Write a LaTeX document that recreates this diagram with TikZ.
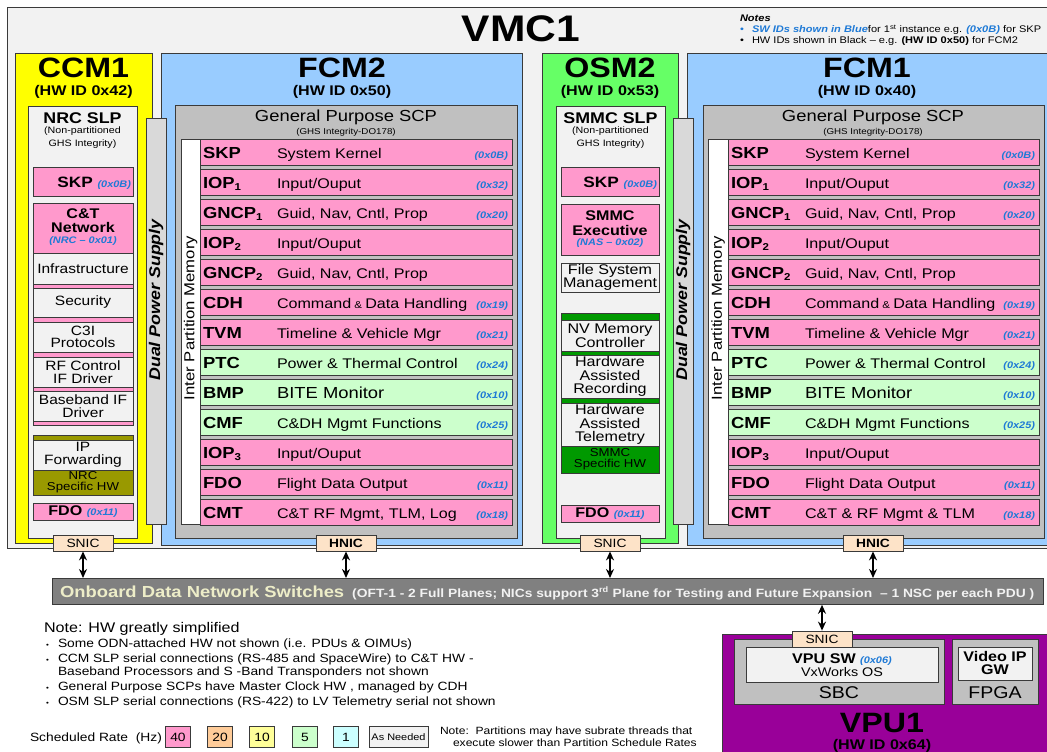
\documentclass[tikz,border=0pt]{standalone}
\usepackage{fontspec}
\setmainfont{Liberation Sans}[FakeStretch=1.15]
\usetikzlibrary{arrows.meta}
\definecolor{vmcbg}{HTML}{F2F2F2}
\definecolor{pinkp}{HTML}{FF99CC}
\definecolor{greenp}{HTML}{CCFFCC}
\definecolor{bluem}{HTML}{99CCFF}
\definecolor{yellowm}{HTML}{FFFF00}
\definecolor{greenm}{HTML}{66FF66}
\definecolor{scpgray}{HTML}{C0C0C0}
\definecolor{dpsgray}{HTML}{D9D9D9}
\definecolor{olivem}{HTML}{999900}
\definecolor{dkgreen}{HTML}{009900}
\definecolor{nicfill}{HTML}{FDE3C8}
\definecolor{bargray}{HTML}{808080}
\definecolor{bartext}{HTML}{EDEDC8}
\definecolor{purplem}{HTML}{990099}
\definecolor{idblue}{HTML}{1F7AD6}
\definecolor{edge}{HTML}{3A3A3A}
\definecolor{orangep}{HTML}{FFCC99}
\definecolor{yellowp}{HTML}{FFFF99}
\definecolor{cyanp}{HTML}{CCFFFF}
\newcommand\fsz[2]{\fontsize{#1}{#2}\selectfont}
\newcommand\idt[1]{{\fsz{9.5}{10}\bfseries\itshape\color{idblue}#1}}
\newcommand\sbs[1]{\raisebox{-2.5pt}{\fsz{10}{10}\bfseries #1}}
\tikzset{
  box/.style={draw=edge, line width=0.8pt},
  txt/.style={inner sep=0pt, outer sep=0pt, align=center},
  nic/.style={draw=edge, line width=0.8pt, fill=nicfill, minimum width=60pt, minimum height=16pt, inner sep=0pt, font=\fsz{12}{12}},
  dbl/.style={{Stealth[length=9pt,width=8pt]}-{Stealth[length=9pt,width=8pt]}, line width=2pt},
  rate/.style={draw=edge, line width=0.8pt, minimum width=25pt, minimum height=21pt, inner sep=0pt, font=\fsz{12}{12}},
}
\newcommand\prow[8]{%
  \draw[box, fill=#5] (#2,#4) rectangle (#3,#4+26);
  \node[txt, anchor=base west] (#1a) at (#2+3,#4+19) {\fsz{16}{16}\bfseries #6};
  \node[txt, anchor=base west] (#1d) at (#2+77,#4+19) {\fsz{14}{14}#7};
  \node[txt, anchor=base east] (#1i) at (#3-4,#4+19) {\idt{#8}};
}
\newcommand\fcmrows[4]{%
  \prow{#1r0}{#2}{#3}{139}{pinkp}{SKP}{System Kernel}{(0x0B)}
  \prow{#1r1}{#2}{#3}{169}{pinkp}{IOP\sbs{1}}{Input/Ouput}{(0x32)}
  \prow{#1r2}{#2}{#3}{199}{pinkp}{GNCP\sbs{1}}{Guid, Nav, Cntl, Prop}{(0x20)}
  \prow{#1r3}{#2}{#3}{229}{pinkp}{IOP\sbs{2}}{Input/Ouput}{}
  \prow{#1r4}{#2}{#3}{259}{pinkp}{GNCP\sbs{2}}{Guid, Nav, Cntl, Prop}{}
  \prow{#1r5}{#2}{#3}{289}{pinkp}{CDH}{Command{\fsz{10}{10} \& }Data Handling}{(0x19)}
  \prow{#1r6}{#2}{#3}{319}{pinkp}{TVM}{Timeline \& Vehicle Mgr}{(0x21)}
  \prow{#1r7}{#2}{#3}{349}{greenp}{PTC}{Power \& Thermal Control}{(0x24)}
  \prow{#1r8}{#2}{#3}{379}{greenp}{BMP}{\fsz{16}{16}BITE Monitor}{(0x10)}
  \prow{#1r9}{#2}{#3}{409}{greenp}{CMF}{C\&DH Mgmt Functions}{(0x25)}
  \prow{#1r10}{#2}{#3}{439}{pinkp}{IOP\sbs{3}}{Input/Ouput}{}
  \prow{#1r11}{#2}{#3}{469}{pinkp}{FDO}{Flight Data Output}{(0x11)}
  \prow{#1r12}{#2}{#3}{499}{pinkp}{CMT}{#4}{(0x18)}
}
\begin{document}
\begin{tikzpicture}[x=1pt,y=-1pt]
\useasboundingbox (0,0) rectangle (1047,752);
\clip (0,0) rectangle (1047,752);
\fill[white] (0,0) rectangle (1047,752);
% ---------- VMC1 ----------
\draw[box, fill=vmcbg] (7,7) rectangle (1060,548);
\node[txt] (vmc) at (521,29) {\fsz{37}{37}\bfseries VMC1};
% notes top right
\node[txt, anchor=base west] (notes) at (740,22) {\fsz{9.6}{9.6}\bfseries\itshape Notes};
\node[txt, anchor=base west] (nb1) at (740,33) {\fsz{9.6}{9.6}\color{idblue}\textbullet};
\node[txt, anchor=base west] (nl1) at (752,33) {\fsz{9.6}{9.6}{\bfseries\itshape\color{idblue}SW IDs shown in Blue}for 1\textsuperscript{st} instance e.g. {\bfseries\itshape\color{idblue}(0x0B)} for SKP};
\node[txt, anchor=base west] (nb2) at (740,44) {\fsz{9.6}{9.6}\textbullet};
\node[txt, anchor=base west] (nl2) at (752,44) {\fsz{9.6}{9.6}HW IDs shown in Black \textendash{} e.g. \textbf{(HW ID 0x50)} for FCM2};
% ---------- modules ----------
\draw[box, fill=yellowm] (15,53) rectangle (152,543);
\draw[box, fill=bluem] (161,53) rectangle (522,545);
\draw[box, fill=greenm] (542,53) rectangle (678,543);
\draw[box, fill=bluem] (687,53) rectangle (1060,545);
\node[txt] (ccm) at (83.5,68) {\fsz{28}{28}\bfseries CCM1};
\node[txt] (ccmid) at (83.5,92) {\fsz{14}{14}\bfseries (HW ID 0x42)};
\node[txt] (fcm2) at (342,68) {\fsz{28}{28}\bfseries FCM2};
\node[txt] (fcm2id) at (342,92) {\fsz{14}{14}\bfseries (HW ID 0x50)};
\node[txt] (osm) at (610,68) {\fsz{28}{28}\bfseries OSM2};
\node[txt] (osmid) at (610,92) {\fsz{14}{14}\bfseries (HW ID 0x53)};
\node[txt] (fcm1) at (867,68) {\fsz{28}{28}\bfseries FCM1};
\node[txt] (fcm1id) at (867,92) {\fsz{14}{14}\bfseries (HW ID 0x40)};
% ---------- CCM1 NRC SLP ----------
\draw[box, fill=vmcbg] (28,106) rectangle (137,538);
\node[txt] (nrc) at (82.5,118) {\fsz{15.5}{15.5}\bfseries NRC SLP};
\node[txt] (nrc1) at (82.5,131) {\fsz{9.3}{9.3}(Non-partitioned};
\node[txt] (nrc2) at (82.5,144) {\fsz{9.3}{9.3}GHS Integrity)};
\draw[box, fill=pinkp] (33,167) rectangle (133,196);
\node[txt, anchor=base east] (ccmskp) at (131,187) {\fsz{15}{15}\bfseries SKP \idt{(0x0B)}};
\draw[box, fill=pinkp] (33,203) rectangle (133,425);
\node[txt] (ct1) at (83,214) {\fsz{14}{14}\bfseries C\&T};
\node[txt] (ct2) at (83,227) {\fsz{14}{14}\bfseries Network};
\node[txt] (ct3) at (83,241) {\idt{(NRC \textendash{} 0x01)}};
\draw[box, fill=vmcbg] (33,253) rectangle (133,284);
\node[txt] (inf) at (83,268.5) {\fsz{13.5}{13.5}Infrastructure};
\draw[box, fill=vmcbg] (33,288) rectangle (133,317);
\node[txt] (sec) at (83,302.5) {\fsz{13.5}{13.5}Security};
\draw[box, fill=vmcbg] (33,322) rectangle (133,352);
\node[txt, font=\fsz{13.5}{12.5}] (c3i) at (83,337) {C3I\\Protocols};
\draw[box, fill=vmcbg] (33,357) rectangle (133,387);
\node[txt, font=\fsz{13.5}{12.5}] (rfc) at (83,372) {RF Control\\IF Driver};
\draw[box, fill=vmcbg] (33,391) rectangle (133,421);
\node[txt, font=\fsz{13.5}{12.5}] (bbif) at (83,406) {Baseband IF\\Driver};
\draw[box, fill=olivem] (33,435) rectangle (133,495);
\draw[box, fill=vmcbg] (33,440) rectangle (133,470);
\node[txt, font=\fsz{13.5}{13.5}] (ipf) at (83,455) {IP\\Forwarding};
\node[txt, font=\fsz{11.5}{11.5}] (nrchw) at (83,482) {NRC\\Specific HW};
\draw[box, fill=pinkp] (33,503) rectangle (133,520);
\node[txt] (ccmfdo) at (83,512) {\fsz{14}{14}\bfseries FDO \idt{(0x11)}};
% ---------- FCM2 ----------
\draw[box, fill=scpgray] (175,105) rectangle (517,538);
\node[txt] (gp2) at (346,117) {\fsz{16}{16}General Purpose SCP};
\node[txt] (gp2b) at (346,132) {\fsz{8.5}{8.5}(GHS Integrity-DO178)};
\draw[box, fill=white] (181,139) rectangle (200,524);
\node[txt, rotate=90] (ipm2) at (190.5,318) {\fsz{14.5}{14.5}Inter Partition Memory};
\fcmrows{fa}{200}{512}{C\&T RF Mgmt, TLM, Log}
% ---------- OSM2 SMMC SLP ----------
\draw[box, fill=vmcbg] (556,106) rectangle (665,538);
\node[txt] (smmc) at (610.5,118) {\fsz{15.5}{15.5}\bfseries SMMC SLP};
\node[txt] (smmc1) at (610.5,131) {\fsz{9.3}{9.3}(Non-partitioned};
\node[txt] (smmc2) at (610.5,144) {\fsz{9.3}{9.3}GHS Integrity)};
\draw[box, fill=pinkp] (561,167) rectangle (659,196);
\node[txt, anchor=base east] (osmskp) at (657,187) {\fsz{15}{15}\bfseries SKP \idt{(0x0B)}};
\draw[box, fill=pinkp] (561,204) rectangle (659,255);
\node[txt] (sx1) at (610,216) {\fsz{14}{14}\bfseries SMMC};
\node[txt] (sx2) at (610,230) {\fsz{14}{14}\bfseries Executive};
\node[txt] (sx3) at (610,243) {\idt{(NAS \textendash{} 0x02)}};
\draw[box, fill=vmcbg] (561,263) rectangle (659,292);
\node[txt, font=\fsz{14}{13.5}] (fsm) at (610,277.5) {File System\\Management};
\draw[box, fill=dkgreen] (561,313) rectangle (659,473);
\draw[box, fill=vmcbg] (561,320) rectangle (659,351);
\node[txt, font=\fsz{14}{13}] (nvm) at (610,335.5) {NV Memory\\Controller};
\draw[box, fill=vmcbg] (561,355) rectangle (659,398);
\node[txt, font=\fsz{14}{13.3}] (har) at (610,376.5) {Hardware\\Assisted\\Recording};
\draw[box, fill=vmcbg] (561,403) rectangle (659,446);
\node[txt, font=\fsz{14}{13.3}] (hat) at (610,424.5) {Hardware\\Assisted\\Telemetry};
\node[txt, font=\fsz{11.5}{11.5}] (smhw) at (610,459) {SMMC\\Specific HW};
\draw[box, fill=pinkp] (561,505) rectangle (659,522);
\node[txt] (osmfdo) at (610,514) {\fsz{14}{14}\bfseries FDO \idt{(0x11)}};
% ---------- FCM1 ----------
\draw[box, fill=scpgray] (703,105) rectangle (1044,538);
\node[txt] (gp1) at (873,117) {\fsz{16}{16}General Purpose SCP};
\node[txt] (gp1b) at (873,132) {\fsz{8.5}{8.5}(GHS Integrity-DO178)};
\draw[box, fill=white] (708,139) rectangle (728,524);
\node[txt, rotate=90] (ipm1) at (718,318) {\fsz{14.5}{14.5}Inter Partition Memory};
\fcmrows{fb}{728}{1039}{C\&T \& RF Mgmt \& TLM}
% ---------- dual power supplies ----------
\draw[box, fill=dpsgray] (146,118) rectangle (166,524);
\node[txt, rotate=90] (dps1) at (156,300) {\fsz{15.5}{15.5}\bfseries\itshape Dual Power Supply};
\draw[box, fill=dpsgray] (673,118) rectangle (693,524);
\node[txt, rotate=90] (dps2) at (683,300) {\fsz{15.5}{15.5}\bfseries\itshape Dual Power Supply};
% ---------- NICs ----------
\node[nic] (snic1) at (83,543) {SNIC};
\node[nic] (hnic2) at (346,543) {\bfseries HNIC};
\node[nic] (snic2) at (610,543) {SNIC};
\node[nic] (hnic1) at (873,543) {\bfseries HNIC};
% ---------- ODN bar ----------
\node[draw=edge, line width=0.8pt, fill=bargray, minimum width=991pt, minimum height=26pt, inner sep=0pt, anchor=north west] (odn) at (52,578) {};
\node[txt, anchor=base west] (odnt) at (60,597) {{\fsz{16}{16}\bfseries\color{bartext}Onboard Data Network Switches}\hspace{8pt}{\fsz{12}{12}\bfseries\color{white!95!black}(OFT-1 - 2 Full Planes; NICs support 3\textsuperscript{rd} Plane for Testing and Future Expansion \ \textendash{} 1 NSC per each PDU )}};
\draw[dbl] (snic1.south) -- (snic1.south |- odn.north);
\draw[dbl] (hnic2.south) -- (hnic2.south |- odn.north);
\draw[dbl] (snic2.south) -- (snic2.south |- odn.north);
\draw[dbl] (hnic1.south) -- (hnic1.south |- odn.north);
% ---------- VPU1 ----------
\draw[box, fill=purplem] (722,634) rectangle (1060,760);
\draw[box, fill=scpgray] (734,639) rectangle (944,704);
\draw[box, fill=vmcbg] (746,647) rectangle (938,682);
\node[txt, anchor=base] (vpusw) at (842,663) {\fsz{14}{14}\bfseries VPU SW \idt{(0x06)}};
\node[txt] (vxw) at (842,672) {\fsz{12.5}{12.5}VxWorks OS};
\node[txt] (sbc) at (839,693) {\fsz{17}{17}SBC};
\draw[box, fill=scpgray] (952,639) rectangle (1038,704);
\draw[box, fill=vmcbg] (958,647) rectangle (1032,680);
\node[txt, font=\fsz{14}{13}\bfseries] (vgw) at (995,663) {Video IP\\GW};
\node[txt] (fpga) at (995,693) {\fsz{17}{17}FPGA};
\node[txt] (vpu) at (882,723) {\fsz{28}{28}\bfseries VPU1};
\node[txt] (vpuid) at (882,746) {\fsz{14}{14}\bfseries (HW ID 0x64)};
\node[nic] (snic3) at (822,639) {SNIC};
\draw[dbl] (odn.south -| snic3.north) -- (snic3.north);
% ---------- bottom notes ----------
\node[txt, anchor=base west] (hwn) at (44,632) {\fsz{14}{14}Note: HW greatly simplified};
\node[txt, anchor=base west] (b1) at (46,647) {\fsz{7}{7}\textbullet};
\node[txt, anchor=base west] (t1) at (58,647) {\fsz{12}{12}Some ODN-attached HW not shown (i.e. PDUs \& OIMUs)};
\node[txt, anchor=base west] (b2) at (46,662) {\fsz{7}{7}\textbullet};
\node[txt, anchor=base west] (t2) at (58,662) {\fsz{12}{12}CCM SLP serial connections (RS-485 and SpaceWire) to C\&T HW -};
\node[txt, anchor=base west] (t2b) at (58,675) {\fsz{12}{12}Baseband Processors and S -Band Transponders not shown};
\node[txt, anchor=base west] (b3) at (46,690) {\fsz{7}{7}\textbullet};
\node[txt, anchor=base west] (t3) at (58,690) {\fsz{12}{12}General Purpose SCPs have Master Clock HW , managed by CDH};
\node[txt, anchor=base west] (b4) at (46,705) {\fsz{7}{7}\textbullet};
\node[txt, anchor=base west] (t4) at (58,705) {\fsz{12}{12}OSM SLP serial connections (RS-422) to LV Telemetry serial not shown};
\node[txt, anchor=base west] (sr) at (30,741) {\fsz{12}{12}Scheduled Rate\ \ (Hz)};
\node[rate, fill=pinkp] (r40) at (178,737) {40};
\node[rate, fill=orangep] (r20) at (220,737) {20};
\node[rate, fill=yellowp] (r10) at (262,737) {10};
\node[rate, fill=greenp] (r5) at (305,737) {5};
\node[rate, fill=cyanp] (r1) at (346,737) {1};
\node[rate, fill=vmcbg, minimum width=59pt, font=\fsz{9.5}{9.5}] (rna) at (398.5,737) {As Needed};
\node[txt, anchor=base west] (pn1) at (440,734) {\fsz{10.5}{10.5}Note:\ \ Partitions may have subrate threads that};
\node[txt, anchor=base west] (pn2) at (453,746) {\fsz{10.5}{10.5}execute slower than Partition Schedule Rates};
\end{tikzpicture}
\end{document}
